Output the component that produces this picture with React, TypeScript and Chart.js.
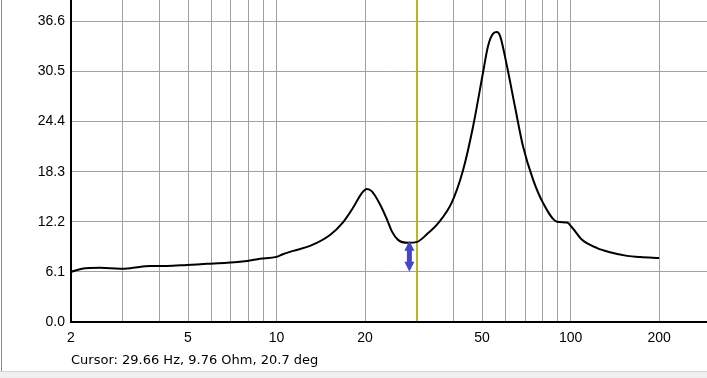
import React, { useEffect, useRef } from "react";
import { Chart, registerables } from "chart.js";

Chart.register(...registerables);

const FREQS_HZ = [
  2.0, 2.18, 2.51, 2.94, 3.25, 3.71, 4.24, 4.96, 5.8, 6.79, 7.94, 8.79, 10.0, 10.5, 11.4, 13.0,
  15.2, 16.8, 18.2, 19.5, 20.3, 21.1, 22.5, 23.8, 24.7, 25.9, 28.0, 30.1, 32.5, 35.4, 39.5,
  43.1, 46.6, 50.4, 52.4, 54.5, 56.2, 57.6, 60.8, 64.7, 68.9, 74.6, 80.6, 90.0, 97.3, 101.2,
  109.4, 123.1, 136.2, 155.7, 172.4, 200,
];
const IMPEDANCE_OHM = [
  6.1, 6.47, 6.59, 6.47, 6.59, 6.83, 6.83, 6.95, 7.08, 7.2, 7.44, 7.69, 7.93, 8.25, 8.66, 9.27,
  10.6, 12.1, 13.9, 15.7, 16.2, 15.9, 14.3, 12.4, 11.0, 10.0, 9.64, 9.76, 10.7, 12.0, 14.6,
  18.5, 23.8, 30.4, 33.6, 35.1, 35.3, 34.8, 31.1, 26.2, 21.4, 17.3, 14.5, 12.2, 12.1, 11.5,
  10.0, 9.0, 8.5, 8.05, 7.9, 7.8,
];
const Y_TICKS = [0, 6.1, 12.2, 18.3, 24.4, 30.5, 36.6];
const X_GRID = [2, 3, 4, 5, 6, 7, 8, 9, 10, 20, 30, 40, 50, 60, 70, 80, 90, 100, 200];
const X_LABELS = [2, 5, 10, 20, 50, 100, 200];
const CURSOR_HZ = 29.66;
const CURSOR_OHM = 9.76;
const CURSOR_DEG = 20.7;
const CURSOR_GRID_HZ = 30;

const GRID = "#a0a0a0";
const CURSOR_LINE = "#b8b820";
const ARROW = "#4444cc";
const TICK_FONT = { family: "Liberation Sans, Arial, sans-serif", size: 14 };

const arrowPlugin = {
  id: "cursorArrow",
  afterDatasetsDraw(chart: any) {
    const ctx = chart.ctx;
    const xs = chart.scales.x;
    const ys = chart.scales.y;
    const cx = xs.getPixelForValue(CURSOR_HZ) - 6;
    const top = ys.getPixelForValue(CURSOR_OHM) - 1;
    const bot = top + 31;
    const hw = 5;
    const hh = 10;
    const sw = 2.5;
    ctx.save();
    ctx.fillStyle = ARROW;
    ctx.beginPath();
    ctx.moveTo(cx, top);
    ctx.lineTo(cx + hw, top + hh);
    ctx.lineTo(cx + sw, top + hh);
    ctx.lineTo(cx + sw, bot - hh);
    ctx.lineTo(cx + hw, bot - hh);
    ctx.lineTo(cx, bot);
    ctx.lineTo(cx - hw, bot - hh);
    ctx.lineTo(cx - sw, bot - hh);
    ctx.lineTo(cx - sw, top + hh);
    ctx.lineTo(cx - hw, top + hh);
    ctx.closePath();
    ctx.fill();
    ctx.restore();
  },
};

export default function App() {
  const ref = useRef<HTMLCanvasElement>(null);
  useEffect(() => {
    if (!ref.current) return;
    const chart = new Chart(ref.current, {
      type: "line",
      data: {
        datasets: [
          {
            data: FREQS_HZ.map((f, i) => ({ x: f, y: IMPEDANCE_OHM[i] })),
            borderColor: "#000000",
            borderWidth: 2,
            pointRadius: 0,
            fill: false,
            cubicInterpolationMode: "monotone",
          },
        ],
      },
      options: {
        animation: false,
        responsive: false,
        devicePixelRatio: 1,
        layout: { padding: 0 },
        plugins: { legend: { display: false }, tooltip: { enabled: false } },
        scales: {
          x: {
            type: "logarithmic",
            min: 2,
            max: 291,
            afterBuildTicks: (s: any) => {
              s.ticks = X_GRID.map((v) => ({ value: v }));
            },
            afterFit: (s: any) => {
              s.height = 56;
              s.paddingLeft = 0;
              s.paddingRight = 0;
            },
            ticks: {
              autoSkip: false,
              maxRotation: 0,
              padding: 8,
              color: "#000000",
              font: TICK_FONT,
              callback: (v: any) => (X_LABELS.includes(Number(v)) ? String(v) : ""),
            },
            grid: {
              drawTicks: false,
              color: (c: any) => (c.tick && c.tick.value === CURSOR_GRID_HZ ? CURSOR_LINE : GRID),
              lineWidth: (c: any) => (c.tick && c.tick.value === CURSOR_GRID_HZ ? 2 : 1),
            },
            border: { color: "#000000", width: 2 },
            title: {
              display: true,
              text: `Cursor: ${CURSOR_HZ} Hz, ${CURSOR_OHM} Ohm, ${CURSOR_DEG} deg`,
              align: "start",
              color: "#000000",
              font: { family: "DejaVu Sans", size: 13 },
              padding: { top: 0, bottom: 10 },
            },
          },
          y: {
            type: "linear",
            min: 0,
            max: 39.2,
            afterBuildTicks: (s: any) => {
              s.ticks = Y_TICKS.map((v) => ({ value: v }));
            },
            afterFit: (s: any) => {
              s.width = 71;
              s.paddingTop = 0;
              s.paddingBottom = 0;
            },
            ticks: {
              padding: 6,
              color: "#000000",
              font: TICK_FONT,
              callback: (v: any) => Number(v).toFixed(1),
            },
            grid: { drawTicks: false, color: GRID },
            border: { color: "#000000", width: 2 },
          },
        },
      },
      plugins: [arrowPlugin],
    });
    return () => chart.destroy();
  }, []);
  return (
    <div style={{ position: "absolute", left: 0, top: 0, width: 707, height: 378, background: "#ffffff", overflow: "hidden" }}>
      <canvas ref={ref} width={707} height={378} style={{ display: "block" }} />
      <div style={{ position: "absolute", left: 1, top: 0, width: 1, height: 372, background: "#8c8c8c" }} />
      <div style={{ position: "absolute", left: 0, top: 371, width: 707, height: 7, background: "#f0f0f0", borderTop: "1px solid #d4d4d4" }} />
    </div>
  );
}
